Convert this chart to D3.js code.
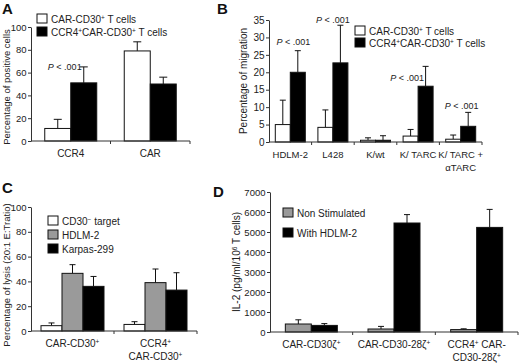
<!DOCTYPE html>
<html lang="en">
<head>
<meta charset="UTF-8">
<title>CAR-CD30 T cells</title>
<script src="https://cdn.jsdelivr.net/npm/d3@7"></script>
<style>
  body { margin: 0; background: #fff; }
  svg text { font-family: 'Liberation Sans', Arial, sans-serif; fill: #222; }
  svg text.letter { font-weight: bold; font-size: 15px; fill: #111; }
</style>
</head>
<body>
<div id="chart"></div>
<script>
// ---- data ----
// A: percentage of positive cells
var catsA = ["CCR4", "CAR"];
var seriesA = ["CAR-CD30^+^ T cells", "CCR4^+^CAR-CD30^+^ T cells"];
var valuesA = [[11, 79], [51, 50]];
var errorsA = [[8, 8], [14, 6]];
var ticksA = [0, 20, 40, 60, 80, 100];
var pA = [{cat: "CCR4", y: 62, dx: -6}];

// B: percentage of migration
var catsB = ["HDLM-2", "L428", "K/wt", "K/ TARC", "K/ TARC +\n\u03b1TARC"];
var seriesB = ["CAR-CD30^+^ T cells", "CCR4^+^CAR-CD30^+^ T cells"];
var valuesB = [[5, 4.2, 0.5, 1.7, 0.8], [20, 22.7, 0.5, 16, 4.5]];
var errorsB = [[7, 5, 0.7, 1.9, 1.2], [6.2, 10.8, 1.3, 5.7, 4]];
var ticksB = [0, 5, 10, 15, 20, 25, 30, 35];
var pB = [
  {cat: "HDLM-2", y: 27.7, dx: 3},
  {cat: "L428", y: 34, dx: 0},
  {cat: "K/ TARC", y: 17.4, dx: -11},
  {cat: "K/ TARC +\n\u03b1TARC", y: 9.6, dx: 1}
];

// C: percentage of lysis
var catsC = ["CAR-CD30^+^", "CCR4^+^\nCAR-CD30^+^"];
var seriesC = ["CD30^\u2212^ target", "HDLM-2", "Karpas-299"];
var valuesC = [[4.3, 5.3], [46.5, 39], [36, 33]];
var errorsC = [[2.2, 2.2], [7, 11], [8, 14]];
var ticksC = [0, 20, 40, 60, 80, 100];

// D: IL-2 release
var catsD = ["CAR-CD30\u03b6^+^", "CAR-CD30-28\u03b6^+^", "CCR4^+^ CAR-\nCD30-28\u03b6^+^"];
var seriesD = ["Non Stimulated", "With HDLM-2"];
var valuesD = [[400, 150, 120], [330, 5450, 5230]];
var errorsD = [[210, 130, 40], [90, 420, 900]];
var ticksD = [0, 1000, 2000, 3000, 4000, 5000, 6000, 7000];

var width = 520, height = 363;
var svg = d3.select('#chart').append('svg')
  .attr('width', width).attr('height', height);

// writes "a^+^b" as tspans with superscripts
function richText(sel, str) {
  str.split('^').forEach(function(part, i) {
    if (!part) return;
    var t = sel.append('tspan').text(part);
    if (i % 2 == 1) t.attr('font-size', '0.65em').attr('baseline-shift', '40%');
  });
}

function multiLine(g, str, x, y, lh, size) {
  str.split('\n').forEach(function(line, i) {
    var t = g.append('text').attr('x', x).attr('y', y + i * lh)
      .attr('text-anchor', 'middle').attr('font-size', size);
    richText(t, line);
  });
}

function panel(o) {
  var g = svg.append('g');
  var x = d3.scaleBand().domain(o.cats).range(o.xr);
  var y = d3.scaleLinear().domain(o.ydom).range(o.yr);
  var n = o.values.length;
  var bw = o.barW;

  o.values.forEach(function(vals, s) {
    var rows = o.cats.map(function(c, i) { return {cat: c, v: vals[i], e: o.errors[s][i]}; });
    var left = function(d) { return x(d.cat) + x.bandwidth() / 2 + (s - n / 2) * bw; };
    var mid = function(d) { return left(d) + bw / 2; };

    g.selectAll(null).data(rows).join('line')
      .attr('x1', mid).attr('x2', mid)
      .attr('y1', function(d) { return y(d.v); })
      .attr('y2', function(d) { return y(d.v + d.e); })
      .attr('stroke', '#111').attr('stroke-width', 1);
    g.selectAll(null).data(rows).join('line')
      .attr('x1', function(d) { return mid(d) - o.cap / 2; })
      .attr('x2', function(d) { return mid(d) + o.cap / 2; })
      .attr('y1', function(d) { return y(d.v + d.e); })
      .attr('y2', function(d) { return y(d.v + d.e); })
      .attr('stroke', '#111').attr('stroke-width', 1);
    g.selectAll(null).data(rows).join('rect')
      .attr('x', left)
      .attr('y', function(d) { return y(d.v); })
      .attr('width', bw)
      .attr('height', function(d) { return y(0) - y(d.v); })
      .attr('fill', o.colors[s])
      .attr('stroke', '#111').attr('stroke-width', 1);
  });

  // y axis
  var ya = g.append('g')
    .attr('transform', 'translate(' + o.xr[0] + ',0)')
    .call(d3.axisLeft(y).tickValues(o.ticks).tickFormat(d3.format('d'))
      .tickSize(3).tickSizeOuter(0).tickPadding(1.5));
  ya.selectAll('text').attr('font-size', o.tickSize).attr('fill', '#222')
    .style('font-family', null);
  ya.attr('font-family', null);
  ya.selectAll('path, line').attr('stroke', '#333');

  // x axis with ticks on the group boundaries
  g.append('line')
    .attr('x1', o.xr[0]).attr('x2', o.xr[1])
    .attr('y1', y(0)).attr('y2', y(0))
    .attr('stroke', '#333');
  g.selectAll(null).data(o.cats).join('line')
    .attr('x1', function(d) { return x(d) + x.bandwidth(); })
    .attr('x2', function(d) { return x(d) + x.bandwidth(); })
    .attr('y1', y(0)).attr('y2', y(0) + 3)
    .attr('stroke', '#333');

  o.cats.forEach(function(c) {
    multiLine(g, c, x(c) + x.bandwidth() / 2, y(0) + o.catDy, o.catLh, o.catSize);
  });

  // y label
  var yl = g.append('text')
    .attr('transform', 'translate(' + o.ylab[0] + ',' + ((o.yr[0] + o.yr[1]) / 2 + (o.ylab[2] || 0)) + ') rotate(-90)')
    .attr('text-anchor', 'middle').attr('font-size', o.ylab[1]);
  richText(yl, o.ylabel);

  // legend
  o.series.forEach(function(name, s) {
    var ly = o.legend[1] + s * o.legend[2];
    g.append('rect')
      .attr('x', o.legend[0]).attr('y', ly)
      .attr('width', 10).attr('height', 9)
      .attr('fill', o.colors[s]).attr('stroke', '#111');
    var t = g.append('text')
      .attr('x', o.legend[0] + 14).attr('y', ly + 8.5)
      .attr('font-size', 10);
    richText(t, name);
  });

  // significance labels
  (o.pvals || []).forEach(function(p) {
    var t = g.append('text')
      .attr('x', x(p.cat) + x.bandwidth() / 2 + p.dx)
      .attr('y', y(p.y))
      .attr('text-anchor', 'middle').attr('font-size', 9);
    t.append('tspan').attr('font-style', 'italic').text('P');
    t.append('tspan').text(' < .001');
  });

  g.append('text').attr('class', 'letter')
    .attr('x', o.letter[1]).attr('y', o.letter[2]).text(o.letter[0]);
}

panel({
  cats: catsA, series: seriesA, values: valuesA, errors: errorsA, ticks: ticksA, pvals: pA,
  colors: ['#fff', '#000'], xr: [31, 190], yr: [141, 27], ydom: [0, 100],
  barW: 26, cap: 8, catDy: 16, catLh: 13, catSize: 10, tickSize: 9.5,
  ylabel: 'Percentage of positive cells', ylab: [10, 9.5, 3],
  legend: [37, 14, 13], letter: ['A', 2, 14]
});

panel({
  cats: catsB, series: seriesB, values: valuesB, errors: errorsB, ticks: ticksB, pvals: pB,
  colors: ['#fff', '#000'], xr: [269, 482], yr: [142, 20], ydom: [0, 35],
  barW: 15, cap: 6, catDy: 16, catLh: 13, catSize: 9.5, tickSize: 10,
  ylabel: 'Percentage of migration', ylab: [247, 10],
  legend: [355, 26, 12], letter: ['B', 217, 14]
});

panel({
  cats: catsC, series: seriesC, values: valuesC, errors: errorsC, ticks: ticksC,
  colors: ['#fff', '#9a9a9a', '#000'], xr: [31, 197], yr: [331, 207], ydom: [0, 100],
  barW: 21, cap: 6, catDy: 16, catLh: 13, catSize: 10, tickSize: 9.5,
  ylabel: 'Percentage of lysis (20:1 E:Tratio)', ylab: [10, 9.5, 6],
  legend: [48, 216, 14], letter: ['C', 2, 193]
});

panel({
  cats: catsD, series: seriesD, values: valuesD, errors: errorsD, ticks: ticksD,
  colors: ['#9a9a9a', '#000'], xr: [270, 518], yr: [332, 192], ydom: [0, 7000],
  barW: 26, cap: 6, catDy: 16, catLh: 13, catSize: 10, tickSize: 9.5,
  ylabel: 'IL-2 (pg/ml/10^6^ T cells)', ylab: [240, 10],
  legend: [283, 208, 20], letter: ['D', 213, 197]
});
</script>
</body>
</html>
